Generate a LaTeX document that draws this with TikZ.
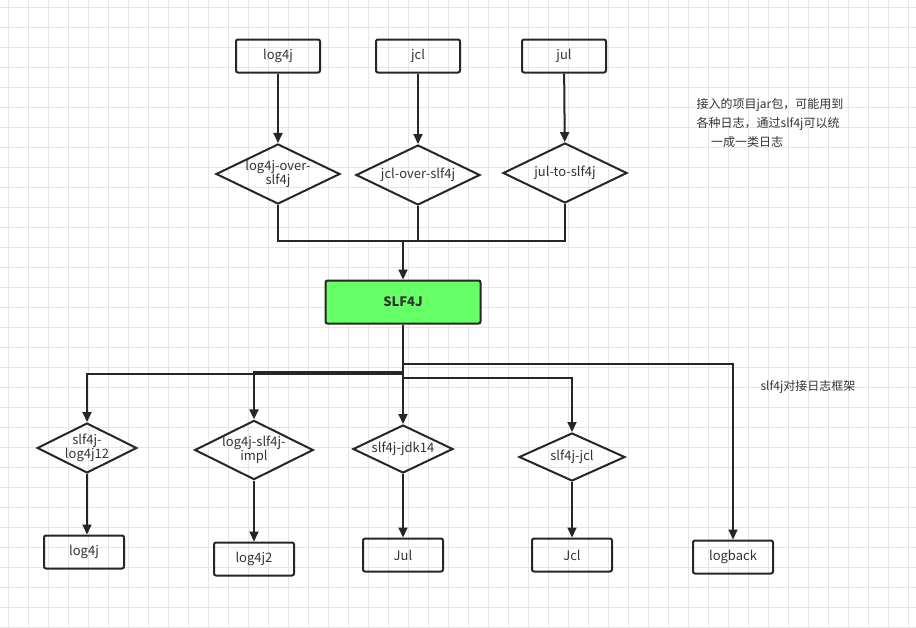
\documentclass[tikz,border=0pt]{standalone}
\usepackage{fontspec}
\setmainfont{Noto Sans CJK SC}
\usetikzlibrary{shapes.geometric, arrows.meta}
\definecolor{gridc}{HTML}{E6E6E6}
\definecolor{slfgreen}{HTML}{66FF66}
\tikzset{
  box/.style={draw=black!85, line width=2pt, rounded corners=2pt, minimum width=80pt, minimum height=33pt, inner sep=0pt, font=\fontsize{13}{15}\selectfont, text=black!80},
  dia/.style={diamond, draw=black!85, line width=2pt, aspect=2, inner sep=0pt, align=center, font=\fontsize{13}{14}\selectfont, text=black!80},
  link/.style={draw=black!85, line width=2pt},
  arr/.style={link, -{Triangle[length=10pt, width=9pt]}}
}
\begin{document}
\begin{tikzpicture}[x=1pt, y=-1pt]
\useasboundingbox (0,0) rectangle (916,627);
% background grid
\foreach \g in {0,20,...,900}
    \draw[gridc, line width=0.6pt] (\g+8,0) -- (\g+8,627);
\foreach \g in {0,20,...,620}
    \draw[gridc, line width=0.6pt] (0,\g+7) -- (916,\g+7);

% Source logging APIs
\foreach \n/\t/\x in {a/log4j/278, b/jcl/418, c/jul/564}
    \node[box, minimum width=84pt] (\n) at (\x,56) {\t};
\node[dia, minimum width=124pt, minimum height=60pt] (da) at (278,174) {log4j-over-\\slf4j};
\node[dia, minimum width=124pt, minimum height=60pt] (db) at (418,175) {jcl-over-slf4j};
\node[dia, minimum width=124pt, minimum height=60pt] (dc) at (565,173) {jul-to-slf4j};
\foreach \n in {a,b,c}
    \draw[arr] (\n) -- (d\n);

% SLF4J facade
\node[box, fill=slfgreen, minimum width=155pt, minimum height=43pt, font=\bfseries\fontsize{13}{15}\selectfont] (s) at (403,302) {SLF4J};
\coordinate (m) at (403,241);
\draw[link] (da.south) |- (m) -| (dc.south);
\draw[link] (db.south) |- (m);
\draw[arr] (m) -- (s.north);

% Bindings
\node[dia, minimum width=98pt, minimum height=50pt] (e1) at (87,448) {slf4j-\\log4j12};
\node[dia, minimum width=116pt, minimum height=58pt] (e2) at (254,450) {log4j-slf4j-\\impl};
\node[dia, minimum width=100pt, minimum height=48pt] (e3) at (403,449) {slf4j-jdk14};
\node[dia, minimum width=106pt, minimum height=48pt] (e4) at (572,457) {slf4j-jcl};
\node[box] (f1) at (84,552) {log4j};
\node[box] (f2) at (254,559) {log4j2};
\node[box] (f3) at (403,555) {Jul};
\node[box] (f4) at (572,555) {Jcl};
\node[box] (f5) at (733,557) {logback};
\foreach \i in {1,...,4}
    \draw[arr] (e\i.south) -- (e\i.south |- f\i.north);

% Fan-out from SLF4J
\coordinate (t) at (403,364);
\draw[link] (s.south) -- (403,378);
\draw[arr] (403,374) -| (e1.north);
\draw[arr] (403,372) -| (e2.north);
\draw[arr] (s.south) -- (e3.north);
\draw[arr] (403,378) -| (e4.north);
\draw[arr] (t) -| (f5.north);

% Notes
\node[align=left, font=\fontsize{12}{19}\selectfont, text=black!80] (n1) at (770,123) {接入的项目jar包，可能用到\\各种日志，通过slf4j可以统\\\hspace*{1.2em}一成一类日志};
\node[font=\fontsize{12}{13}\selectfont, text=black!80] (n2) at (808,387) {slf4j对接日志框架};
\end{tikzpicture}
\end{document}
